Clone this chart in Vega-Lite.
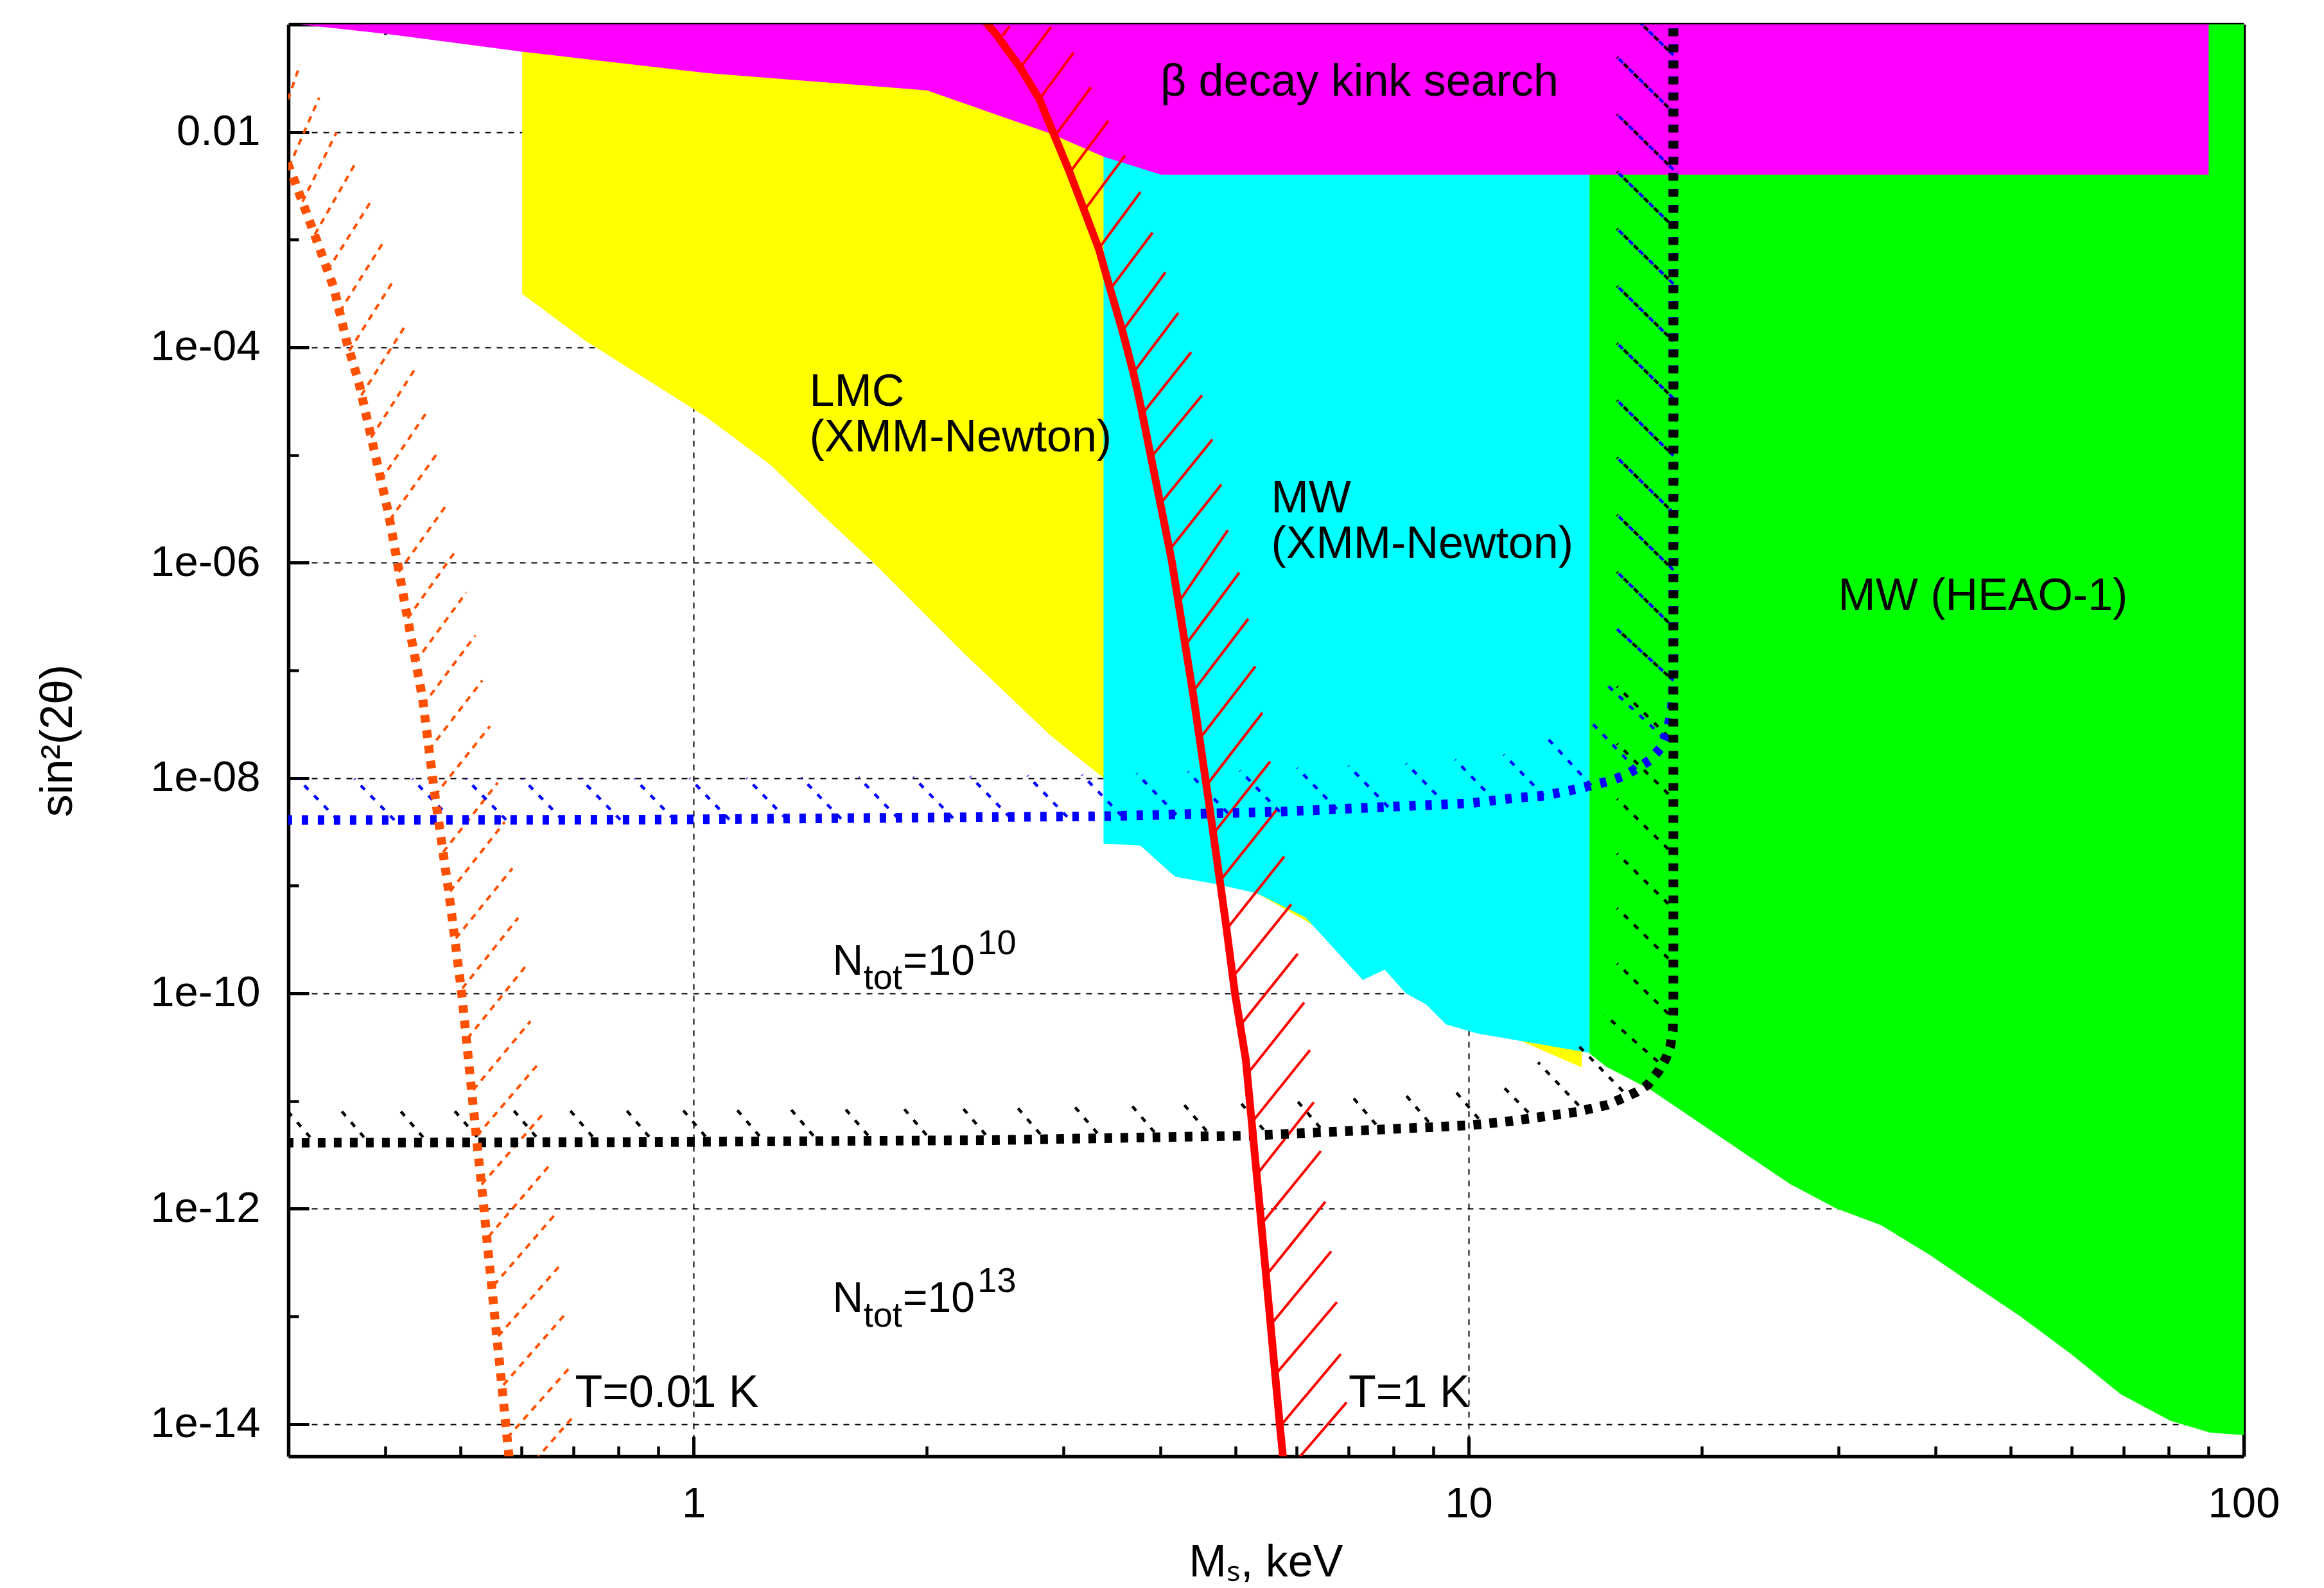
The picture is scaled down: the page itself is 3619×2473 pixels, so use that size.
{
"$schema": "https://vega.github.io/schema/vega-lite/v6.json",
"width": 3045, "height": 2230,
"autosize": {"type": "none"},
"padding": {"left": 449, "top": 38, "right": 125, "bottom": 205},
"background": "white",
"config": {
  "view": {"stroke": null},
  "font": "Liberation Sans",
  "axis": {"labelFont": "Liberation Sans", "titleFont": "Liberation Sans", "labelColor": "black", "titleColor": "black", "tickColor": "black", "domainColor": "black", "gridColor": "black", "titleFontWeight": "normal", "zindex": 1, "labelFlush": false, "labelOverlap": false, "labelBound": false}
},
"datasets": {
  "yellow": [
    {"x":0.601,"y":3.15e-4},{"x":0.724,"y":1.16e-4},{"x":0.955,"y":3.3e-5},{"x":1.04,"y":2.24e-5},{"x":1.257,"y":8.1e-6},{"x":1.46,"y":2.86e-6},{"x":1.70,"y":1.03e-6},{"x":2.235,"y":1.43e-7},{"x":2.885,"y":2.5e-8},{"x":3.38,"y":1.0e-8},{"x":4.0,"y":3.0e-9},{"x":4.73,"y":1.2e-9},{"x":5.33,"y":8.5e-10},{"x":6.2,"y":4.6e-10},{"x":6.6,"y":3.4e-10},{"x":7.3,"y":1.6e-10},{"x":7.79,"y":1.8e-10},{"x":8.3,"y":1.1e-10},{"x":8.81,"y":8.5e-11},{"x":9.35,"y":5.5e-11},{"x":10.27,"y":4.4e-11},{"x":11.49,"y":3.8e-11},{"x":13.99,"y":2.05e-11}
  ],
  "cyan": [
    {"x":3.38,"y":2.46e-9},{"x":3.77,"y":2.36e-9},{"x":4.18,"y":1.21e-9},{"x":4.73,"y":1.03e-9},{"x":5.33,"y":8.5e-10},{"x":6.16,"y":5.07e-10},{"x":7.30,"y":1.33e-10},{"x":7.79,"y":1.66e-10},{"x":8.30,"y":1.0e-10},{"x":8.81,"y":7.9e-11},{"x":9.35,"y":5.14e-11},{"x":10.27,"y":4.23e-11},{"x":14.32,"y":2.8e-11}
  ],
  "green": [
    {"x":14.32,"y":2.77e-11},{"x":15.04,"y":2.09e-11},{"x":17.19,"y":1.265e-11},{"x":19.65,"y":6.59e-12},{"x":22.45,"y":3.44e-12},{"x":26.05,"y":1.675e-12},{"x":29.77,"y":1.007e-12},{"x":34.02,"y":7.05e-13},{"x":39.4,"y":3.69e-13},{"x":45.05,"y":1.91e-13},{"x":51.46,"y":1.0e-13},{"x":59.74,"y":4.51e-14},{"x":69.31,"y":1.9e-14},{"x":80.4,"y":1.07e-14},{"x":90.5,"y":8.32e-15},{"x":100,"y":7.87e-15}
  ],
  "magenta": [
    {"x":0.31,"y":0.1},{"x":0.401,"y":0.0818},{"x":0.601,"y":0.0557},{"x":1.04,"y":0.0353},{"x":2.0,"y":0.0244},{"x":2.885,"y":0.0097},{"x":3.38,"y":0.0059},{"x":4.01,"y":0.00402},{"x":90.1,"y":0.00402}
  ],
  "red": [
    {"i":0,"x":2.346,"y":0.130},{"i":1,"x":2.390,"y":0.1015},{"i":2,"x":2.451,"y":0.0826},{"i":3,"x":2.635,"y":0.0404},{"i":4,"x":2.795,"y":0.02005},{"i":5,"x":2.921,"y":0.00928},{"i":6,"x":3.051,"y":0.004359},{"i":7,"x":3.188,"y":0.001911},{"i":8,"x":3.332,"y":8.26e-4},{"i":9,"x":3.448,"y":3.475e-4},{"i":10,"x":3.575,"y":1.421e-4},{"i":11,"x":3.693,"y":5.816e-5},{"i":12,"x":3.771,"y":2.967e-5},{"i":13,"x":4.025,"y":2.866e-6},{"i":14,"x":4.141,"y":1.022e-6},{"i":15,"x":4.418,"y":5.544e-8},{"i":16,"x":4.634,"y":5.21e-9},{"i":17,"x":4.852,"y":4.9e-10},{"i":18,"x":4.993,"y":1.008e-10},{"i":19,"x":5.158,"y":2.414e-11},{"i":20,"x":5.378,"y":1.008e-12},{"i":21,"x":5.705,"y":9.95e-15},{"i":22,"x":5.759,"y":5.0e-15},{"i":23,"x":5.781,"y":3.65e-15}
  ],
  "orange": [
    {"i":0,"x":0.2892,"y":0.00954},{"i":1,"x":0.2999,"y":0.004932},{"i":2,"x":0.3057,"y":0.003498},{"i":3,"x":0.3245,"y":0.001103},{"i":4,"x":0.3435,"y":3.571e-4},{"i":5,"x":0.3565,"y":1.157e-4},{"i":6,"x":0.3700,"y":4.67e-5},{"i":7,"x":0.3867,"y":1.149e-5},{"i":8,"x":0.4040,"y":2.866e-6},{"i":9,"x":0.4246,"y":3.96e-7},{"i":10,"x":0.4469,"y":5.544e-8},{"i":11,"x":0.4634,"y":7.153e-9},{"i":12,"x":0.4842,"y":7.82e-10},{"i":13,"x":0.5021,"y":1.008e-10},{"i":14,"x":0.5157,"y":1.512e-11},{"i":15,"x":0.5256,"y":3.987e-12},{"i":16,"x":0.5364,"y":1.008e-12},{"i":17,"x":0.5437,"y":3.696e-13},{"i":18,"x":0.5539,"y":1.0e-13},{"i":19,"x":0.5619,"y":3.67e-14},{"i":20,"x":0.5723,"y":9.95e-15},{"i":21,"x":0.5778,"y":5.0e-15},{"i":22,"x":0.5826,"y":2.55e-15}
  ],
  "blue": [
    {"i":0,"x":0.2838,"y":4.07e-9},{"i":1,"x":0.3,"y":4.07e-9},{"i":2,"x":0.8583,"y":4.10e-9},{"i":3,"x":3.422,"y":4.42e-9},{"i":4,"x":5.705,"y":4.87e-9},{"i":5,"x":8.013,"y":5.43e-9},{"i":6,"x":10.02,"y":5.82e-9},{"i":7,"x":11.404,"y":6.49e-9},{"i":8,"x":12.546,"y":6.86e-9},{"i":9,"x":13.748,"y":7.87e-9},{"i":10,"x":14.42,"y":8.55e-9},{"i":11,"x":15.12,"y":9.28e-9},{"i":12,"x":15.80,"y":1.036e-8},{"i":13,"x":16.48,"y":1.222e-8},{"i":14,"x":17.12,"y":1.461e-8},{"i":15,"x":17.69,"y":1.898e-8},{"i":16,"x":18.03,"y":2.64e-8},{"i":17,"x":18.20,"y":3.62e-8},{"i":18,"x":18.34,"y":5.32e-8},{"i":19,"x":18.37,"y":8.04e-8},{"i":20,"x":18.37,"y":0.13}
  ],
  "black": [
    {"i":0,"x":0.2838,"y":4.10e-12},{"i":1,"x":0.3,"y":4.10e-12},{"i":2,"x":0.8583,"y":4.15e-12},{"i":3,"x":2.432,"y":4.33e-12},{"i":4,"x":5.236,"y":4.77e-12},{"i":5,"x":10.02,"y":5.94e-12},{"i":6,"x":11.404,"y":6.54e-12},{"i":7,"x":12.546,"y":7.20e-12},{"i":8,"x":13.80,"y":7.93e-12},{"i":9,"x":15.12,"y":9.22e-12},{"i":10,"x":15.65,"y":1.029e-11},{"i":11,"x":16.48,"y":1.214e-11},{"i":12,"x":17.02,"y":1.411e-11},{"i":13,"x":17.62,"y":1.937e-11},{"i":14,"x":17.96,"y":2.48e-11},{"i":15,"x":18.20,"y":3.18e-11},{"i":16,"x":18.34,"y":4.48e-11},{"i":17,"x":18.37,"y":7.25e-11},{"i":18,"x":18.37,"y":0.13}
  ],
  "hatch_red": [
    {"x":2.503,"y":0.0782,"x2":2.556,"y2":0.0961},{"x":2.645,"y":0.0404,"x2":2.893,"y2":0.0948},{"x":2.795,"y":0.0203,"x2":3.093,"y2":0.0547},{"x":2.927,"y":0.00928,"x2":3.256,"y2":0.02603},{"x":3.064,"y":0.0043,"x2":3.428,"y2":0.01274},{"x":3.194,"y":0.001885,"x2":3.603,"y2":0.006064},{"x":3.332,"y":0.000826,"x2":3.771,"y2":0.002769},{"x":3.448,"y":0.0003475,"x2":3.910,"y2":0.001165},{"x":3.575,"y":0.0001421,"x2":4.061,"y2":0.0004967},{"x":3.693,"y":5.82e-5,"x2":4.220,"y2":0.0002089},{"x":3.793,"y":2.414e-5,"x2":4.385,"y2":9.03e-5},{"x":3.895,"y":9.61e-6,"x2":4.530,"y2":3.595e-5},{"x":4.001,"y":3.523e-6,"x2":4.670,"y2":1.393e-5},{"x":4.109,"y":1.309e-6,"x2":4.796,"y2":5.32e-6},{"x":4.220,"y":4.24e-7,"x2":4.889,"y2":2.005e-6},{"x":4.310,"y":1.712e-7,"x2":5.059,"y2":8.09e-7},{"x":4.410,"y":6.36e-8,"x2":5.196,"y2":3.006e-7},{"x":4.494,"y":2.30e-8,"x2":5.306,"y2":1.087e-7},{"x":4.590,"y":8.55e-9,"x2":5.418,"y2":4.04e-8},{"x":4.679,"y":3.006e-9,"x2":5.544,"y2":1.422e-8},{"x":4.769,"y":1.088e-9,"x2":5.662,"y2":5.14e-9},{"x":4.870,"y":3.933e-10,"x2":5.781,"y2":1.859e-9},{"x":4.964,"y":1.422e-10,"x2":5.904,"y2":6.72e-10},{"x":5.069,"y":5.00e-11,"x2":6.018,"y2":2.332e-10},{"x":5.166,"y":1.736e-11,"x2":6.134,"y2":8.21e-11},{"x":5.247,"y":6.28e-12,"x2":6.240,"y2":2.967e-11},{"x":5.327,"y":2.061e-12,"x2":6.312,"y2":9.74e-12},{"x":5.408,"y":7.25e-13,"x2":6.446,"y2":3.43e-12},{"x":5.491,"y":2.447e-13,"x2":6.533,"y2":1.157e-12},{"x":5.565,"y":8.49e-14,"x2":6.646,"y2":4.014e-13},{"x":5.629,"y":2.867e-14,"x2":6.761,"y2":1.355e-13},{"x":5.705,"y":9.41e-15,"x2":6.839,"y2":4.45e-14},{"x":5.781,"y":3.357e-15,"x2":6.958,"y2":1.588e-14}
  ],
  "hatch_orange": [
    {"x":0.2893,"y":0.00954,"x2":0.3105,"y2":0.04211},{"x":0.3005,"y":0.004734,"x2":0.3288,"y2":0.02089},{"x":0.3129,"y":0.002253,"x2":0.3461,"y2":0.009945},{"x":0.3245,"y":0.001118,"x2":0.3650,"y2":0.004932},{"x":0.3370,"y":5.176e-4,"x2":0.3837,"y2":0.002285},{"x":0.3494,"y":2.147e-4,"x2":0.3979,"y2":9.48e-4},{"x":0.3595,"y":9.28e-5,"x2":0.4094,"y2":4.097e-4},{"x":0.3727,"y":3.595e-5,"x2":0.4246,"y2":1.587e-4},{"x":0.3837,"y":1.452e-5,"x2":0.4377,"y2":6.406e-5},{"x":0.3949,"y":5.858e-6,"x2":0.4539,"y2":2.585e-5},{"x":0.4055,"y":2.497e-6,"x2":0.4697,"y2":1.102e-5},{"x":0.4165,"y":8.20e-7,"x2":0.4824,"y2":3.621e-6},{"x":0.4277,"y":3.049e-7,"x2":0.4955,"y2":1.346e-6},{"x":0.4377,"y":1.197e-7,"x2":0.5089,"y2":5.285e-7},{"x":0.4478,"y":4.768e-8,"x2":0.5227,"y2":2.104e-7},{"x":0.4555,"y":1.821e-8,"x2":0.5338,"y2":8.04e-8},{"x":0.4634,"y":6.86e-9,"x2":0.5461,"y2":3.029e-8},{"x":0.4751,"y":2.046e-9,"x2":0.5588,"y2":9.03e-9},{"x":0.4852,"y":8.85e-10,"x2":0.5706,"y2":3.905e-9},{"x":0.4935,"y":3.243e-10,"x2":0.5838,"y2":1.451e-9},{"x":0.5030,"y":1.110e-10,"x2":0.5939,"y2":5.04e-10},{"x":0.5107,"y":3.80e-11,"x2":0.6077,"y2":1.796e-10},{"x":0.5196,"y":1.265e-11,"x2":0.6159,"y2":5.506e-11},{"x":0.5256,"y":4.77e-12,"x2":0.6278,"y2":2.133e-11},{"x":0.5327,"y":1.677e-12,"x2":0.6397,"y2":7.61e-12},{"x":0.5439,"y":5.506e-13,"x2":0.6509,"y2":2.498e-12},{"x":0.5523,"y":1.937e-13,"x2":0.6622,"y2":8.79e-13},{"x":0.5598,"y":6.54e-14,"x2":0.6723,"y2":2.967e-13},{"x":0.5683,"y":2.30e-14,"x2":0.6827,"y2":1.044e-13},{"x":0.5749,"y":7.45e-15,"x2":0.6932,"y2":3.381e-14},{"x":0.5815,"y":2.55e-15,"x2":0.6985,"y2":1.157e-14}
  ],
  "hatch_blue": [
    {"x":0.3475,"y":4.07e-9,"x2":0.3088,"y2":9.81e-9},{"x":0.4111,"y":4.07e-9,"x2":0.3650,"y2":9.81e-9},{"x":0.4880,"y":4.07e-9,"x2":0.4335,"y2":9.81e-9},{"x":0.5728,"y":4.09e-9,"x2":0.5089,"y2":9.83e-9},{"x":0.6775,"y":4.09e-9,"x2":0.6019,"y2":9.83e-9},{"x":0.8043,"y":4.10e-9,"x2":0.7145,"y2":9.86e-9},{"x":0.9441,"y":4.10e-9,"x2":0.8388,"y2":9.86e-9},{"x":1.112,"y":4.12e-9,"x2":0.9883,"y2":9.94e-9},{"x":1.318,"y":4.15e-9,"x2":1.171,"y2":1.0e-8},{"x":1.550,"y":4.18e-9,"x2":1.377,"y2":1.008e-8},{"x":1.837,"y":4.21e-9,"x2":1.632,"y2":1.015e-8},{"x":2.161,"y":4.24e-9,"x2":1.920,"y2":1.022e-8},{"x":2.561,"y":4.30e-9,"x2":2.275,"y2":1.036e-8},{"x":3.034,"y":4.36e-9,"x2":2.696,"y2":1.051e-8},{"x":3.568,"y":4.45e-9,"x2":3.170,"y2":1.072e-8},{"x":4.196,"y":4.57e-9,"x2":3.729,"y2":1.102e-8},{"x":4.889,"y":4.73e-9,"x2":4.343,"y2":1.141e-8},{"x":5.705,"y":4.87e-9,"x2":5.069,"y2":1.173e-8},{"x":6.761,"y":5.14e-9,"x2":6.007,"y2":1.239e-8},{"x":7.874,"y":5.39e-9,"x2":6.998,"y2":1.300e-8},{"x":9.352,"y":5.66e-9,"x2":8.308,"y2":1.364e-8},{"x":10.81,"y":6.14e-9,"x2":9.605,"y2":1.482e-8},{"x":12.50,"y":6.86e-9,"x2":11.10,"y2":1.654e-8},
    {"x":14.39,"y":8.55e-9,"x2":12.64,"y2":2.332e-8},{"x":16.45,"y":1.205e-8,"x2":14.26,"y2":3.522e-8},{"x":17.89,"y":2.332e-8,"x2":15.12,"y2":7.20e-8},
    {"x":18.37,"y":8.04e-8,"x2":15.54,"y2":2.414e-7},{"x":18.37,"y":2.516e-7,"x2":15.54,"y2":8.20e-7},{"x":18.37,"y":8.55e-7,"x2":15.54,"y2":2.789e-6},{"x":18.37,"y":2.906e-6,"x2":15.54,"y2":9.48e-6},{"x":18.37,"y":9.88e-6,"x2":15.54,"y2":3.222e-5},{"x":18.37,"y":3.357e-5,"x2":15.54,"y2":1.095e-4},{"x":18.37,"y":1.141e-4,"x2":15.54,"y2":3.72e-4},{"x":18.37,"y":3.879e-4,"x2":15.54,"y2":0.001265},{"x":18.37,"y":0.001318,"x2":15.54,"y2":0.0043},{"x":18.37,"y":0.00448,"x2":15.54,"y2":0.01462},{"x":18.37,"y":0.01523,"x2":15.54,"y2":0.04967},{"x":18.37,"y":0.05176,"x2":15.54,"y2":0.1688}
  ],
  "hatch_black": [
    {"x":0.3245,"y":4.10e-12,"x2":0.2960,"y2":8.85e-12},{"x":0.3808,"y":4.10e-12,"x2":0.3475,"y2":8.85e-12},{"x":0.4539,"y":4.10e-12,"x2":0.4141,"y2":8.85e-12},{"x":0.5328,"y":4.13e-12,"x2":0.4861,"y2":8.9e-12},{"x":0.6349,"y":4.15e-12,"x2":0.5794,"y2":8.97e-12},{"x":0.7509,"y":4.15e-12,"x2":0.6852,"y2":8.97e-12},{"x":0.8883,"y":4.15e-12,"x2":0.8104,"y2":8.97e-12},{"x":1.050,"y":4.18e-12,"x2":0.9585,"y2":9.03e-12},{"x":1.233,"y":4.21e-12,"x2":1.125,"y2":9.09e-12},{"x":1.447,"y":4.24e-12,"x2":1.321,"y2":9.15e-12},{"x":1.702,"y":4.27e-12,"x2":1.553,"y2":9.22e-12},{"x":2.025,"y":4.30e-12,"x2":1.848,"y2":9.28e-12},{"x":2.414,"y":4.33e-12,"x2":2.202,"y2":9.35e-12},{"x":2.839,"y":4.39e-12,"x2":2.590,"y2":9.48e-12},{"x":3.364,"y":4.48e-12,"x2":3.069,"y2":9.67e-12},{"x":3.986,"y":4.57e-12,"x2":3.638,"y2":9.88e-12},{"x":4.653,"y":4.70e-12,"x2":4.245,"y2":1.015e-11},{"x":5.513,"y":4.83e-12,"x2":5.030,"y2":1.043e-11},{"x":6.522,"y":5.04e-12,"x2":5.950,"y2":1.087e-11},{"x":7.697,"y":5.40e-12,"x2":7.024,"y2":1.165e-11},{"x":9.001,"y":5.70e-12,"x2":8.215,"y2":1.231e-11},{"x":10.44,"y":6.10e-12,"x2":9.533,"y2":1.318e-11},{"x":12.12,"y":7.00e-12,"x2":11.0,"y2":1.431e-11},
    {"x":14.07,"y":8.15e-12,"x2":12.29,"y2":2.285e-11},{"x":16.05,"y":1.103e-11,"x2":13.88,"y2":3.22e-11},{"x":17.82,"y":2.104e-11,"x2":14.98,"y2":6.32e-11},
    {"x":18.37,"y":5.82e-11,"x2":15.54,"y2":1.897e-10},{"x":18.37,"y":1.897e-10,"x2":15.54,"y2":6.19e-10},{"x":18.37,"y":6.10e-10,"x2":15.54,"y2":1.991e-9},{"x":18.37,"y":1.964e-9,"x2":15.54,"y2":6.40e-9},{"x":18.37,"y":6.40e-9,"x2":15.54,"y2":2.089e-8},{"x":18.37,"y":2.177e-8,"x2":15.54,"y2":7.10e-8},{"x":18.37,"y":8.04e-8,"x2":15.54,"y2":2.414e-7},{"x":18.37,"y":2.516e-7,"x2":15.54,"y2":8.20e-7},{"x":18.37,"y":8.55e-7,"x2":15.54,"y2":2.789e-6},{"x":18.37,"y":2.906e-6,"x2":15.54,"y2":9.48e-6},{"x":18.37,"y":9.88e-6,"x2":15.54,"y2":3.222e-5},{"x":18.37,"y":3.357e-5,"x2":15.54,"y2":1.095e-4},{"x":18.37,"y":1.141e-4,"x2":15.54,"y2":3.72e-4},{"x":18.37,"y":3.879e-4,"x2":15.54,"y2":0.001265},{"x":18.37,"y":0.001318,"x2":15.54,"y2":0.0043},{"x":18.37,"y":0.00448,"x2":15.54,"y2":0.01462},{"x":18.37,"y":0.01523,"x2":15.54,"y2":0.04967},{"x":18.37,"y":0.05176,"x2":15.54,"y2":0.1688}
  ],
  "lab_left": [
    {"x":1.411,"y":2.86e-5,"t":"LMC"},{"x":1.411,"y":1.087e-5,"t":"(XMM-Newton)"},{"x":5.561,"y":2.92e-6,"t":"MW"},{"x":5.561,"y":1.11e-6,"t":"(XMM-Newton)"},{"x":0.7031,"y":1.43e-14,"t":"T=0.01 K"},{"x":6.998,"y":1.43e-14,"t":"T=1 K"}
  ],
  "lab_center": [
    {"x":7.228,"y":0.02177,"t":"β decay kink search"},{"x":46.08,"y":3.626e-7,"t":"MW (HEAO-1)"}
  ],
  "lab_n": [
    {"x":1.511,"y":1.49e-10,"t":"N"},{"x":1.862,"y":1.49e-10,"t":"=10"},{"x":1.511,"y":1.094e-13,"t":"N"},{"x":1.862,"y":1.094e-13,"t":"=10"}
  ],
  "lab_nsmall": [
    {"x":1.657,"y":1.094e-10,"t":"tot"},{"x":2.325,"y":2.30e-10,"t":"10"},{"x":1.657,"y":7.98e-14,"t":"tot"},{"x":2.325,"y":1.69e-13,"t":"13"}
  ]
},
"layer": [
  {"data": {"name": "yellow"}, "mark": {"type": "area", "color": "#ffff00", "clip": true},
   "encoding": {
     "x": {"field": "x", "type": "quantitative", "scale": {"type": "log", "domain": [0.3, 100], "nice": false},
       "axis": {"orient": "bottom", "values": [1, 10, 100], "format": "d", "ticks": false, "domain": true, "domainWidth": 5.5, "labelFontSize": 67, "labelPadding": 41, "grid": true, "gridDash": [9, 9], "gridWidth": 2, "gridOpacity": 1, "title": "Mₛ, keV", "titleFontSize": 70, "titleBaseline": "alphabetic", "titleX": 1522, "titleY": 186}},
     "y": {"field": "y", "type": "quantitative", "scale": {"type": "log", "domain": [5e-15, 0.1], "nice": false},
       "axis": {"orient": "left", "values": [0.01, 1e-4, 1e-6, 1e-8, 1e-10, 1e-12, 1e-14], "labelExpr": "datum.value > 0.005 ? '0.01' : '1e-' + (round(-log(datum.value)/LN10) < 10 ? '0' : '') + round(-log(datum.value)/LN10)", "ticks": false, "domain": true, "domainWidth": 5.5, "labelFontSize": 67, "labelPadding": 44, "grid": true, "gridDash": [9, 9], "gridWidth": 2, "gridOpacity": 1, "title": "sin²(2θ)", "titleFontSize": 70, "titleBaseline": "alphabetic", "titleAngle": 270, "titleX": -338, "titleY": 1115}},
     "y2": {"datum": 0.1}
   }},
  {"data": {"name": "cyan"}, "mark": {"type": "area", "color": "#00ffff", "clip": true},
   "encoding": {
     "x": {"field": "x", "type": "quantitative", "scale": {"type": "log", "domain": [0.3, 100], "nice": false},
       "axis": {"orient": "bottom", "values": [1, 10], "labels": false, "ticks": true, "tickSize": -31, "tickWidth": 5, "domain": false, "grid": false, "title": null}},
     "y": {"field": "y", "type": "quantitative", "scale": {"type": "log", "domain": [5e-15, 0.1], "nice": false},
       "axis": {"orient": "left", "values": [0.01, 1e-4, 1e-6, 1e-8, 1e-10, 1e-12, 1e-14], "labels": false, "ticks": true, "tickSize": -32, "tickWidth": 5, "domain": false, "grid": false, "title": null}},
     "y2": {"datum": 0.1}
   }},
  {"data": {"name": "green"}, "mark": {"type": "area", "color": "#00ff00", "clip": true},
   "encoding": {
     "x": {"field": "x", "type": "quantitative", "scale": {"type": "log", "domain": [0.3, 100], "nice": false},
       "axis": {"orient": "bottom", "values": [0.4, 0.5, 0.6, 0.7, 0.8, 0.9, 2, 3, 4, 5, 6, 7, 8, 9, 20, 30, 40, 50, 60, 70, 80, 90], "labels": false, "ticks": true, "tickSize": -16, "tickWidth": 4.5, "domain": false, "grid": false, "title": null}},
     "y": {"field": "y", "type": "quantitative", "scale": {"type": "log", "domain": [5e-15, 0.1], "nice": false},
       "axis": {"orient": "left", "values": [1e-3, 1e-5, 1e-7, 1e-9, 1e-11, 1e-13], "labels": false, "ticks": true, "tickSize": -16, "tickWidth": 4.5, "domain": false, "grid": false, "title": null}},
     "y2": {"datum": 0.1}
   }},
  {"data": {"name": "magenta"}, "mark": {"type": "area", "color": "#ff00ff", "clip": true},
   "encoding": {
     "x": {"field": "x", "type": "quantitative", "scale": {"type": "log", "domain": [0.3, 100], "nice": false},
       "axis": {"orient": "top", "values": [1, 10], "labels": false, "ticks": true, "tickSize": -31, "tickWidth": 5, "domain": true, "domainWidth": 5.5, "grid": false, "title": null}},
     "y": {"field": "y", "type": "quantitative", "scale": {"type": "log", "domain": [5e-15, 0.1], "nice": false},
       "axis": {"orient": "right", "values": [0.01, 1e-4, 1e-6, 1e-8, 1e-10, 1e-12, 1e-14], "labels": false, "ticks": true, "tickSize": -32, "tickWidth": 5, "domain": true, "domainWidth": 5.5, "grid": false, "title": null}},
     "y2": {"datum": 0.1}
   }},
  {"data": {"name": "hatch_orange"}, "mark": {"type": "rule", "color": "#ff5000", "strokeWidth": 4, "strokeDash": [10, 9], "clip": true},
   "encoding": {
     "x": {"field": "x", "type": "quantitative", "scale": {"type": "log", "domain": [0.3, 100], "nice": false},
       "axis": {"orient": "top", "values": [0.4, 0.5, 0.6, 0.7, 0.8, 0.9, 2, 3, 4, 5, 6, 7, 8, 9, 20, 30, 40, 50, 60, 70, 80, 90], "labels": false, "ticks": true, "tickSize": -16, "tickWidth": 4.5, "domain": false, "grid": false, "title": null}},
     "y": {"field": "y", "type": "quantitative", "scale": {"type": "log", "domain": [5e-15, 0.1], "nice": false},
       "axis": {"orient": "right", "values": [1e-3, 1e-5, 1e-7, 1e-9, 1e-11, 1e-13], "labels": false, "ticks": true, "tickSize": -16, "tickWidth": 4.5, "domain": false, "grid": false, "title": null}},
     "x2": {"field": "x2"}, "y2": {"field": "y2"}
   }},
  {"data": {"name": "hatch_red"}, "mark": {"type": "rule", "color": "#ff0000", "strokeWidth": 4, "clip": true},
   "encoding": {
     "x": {"field": "x", "type": "quantitative", "axis": null}, "y": {"field": "y", "type": "quantitative", "axis": null},
     "x2": {"field": "x2"}, "y2": {"field": "y2"}
   }},
  {"data": {"name": "hatch_blue"}, "mark": {"type": "rule", "color": "#0000ff", "strokeWidth": 4.5, "strokeDash": [9, 13], "clip": true},
   "encoding": {
     "x": {"field": "x", "type": "quantitative", "axis": null}, "y": {"field": "y", "type": "quantitative", "axis": null},
     "x2": {"field": "x2"}, "y2": {"field": "y2"}
   }},
  {"data": {"name": "hatch_black"}, "mark": {"type": "rule", "color": "#000000", "strokeWidth": 4.5, "strokeDash": [9, 13], "strokeDashOffset": 11, "clip": true},
   "encoding": {
     "x": {"field": "x", "type": "quantitative", "axis": null}, "y": {"field": "y", "type": "quantitative", "axis": null},
     "x2": {"field": "x2"}, "y2": {"field": "y2"}
   }},
  {"data": {"name": "blue"}, "mark": {"type": "line", "color": "#0000ff", "strokeWidth": 15, "strokeDash": [10, 15], "clip": true},
   "encoding": {
     "x": {"field": "x", "type": "quantitative", "axis": null}, "y": {"field": "y", "type": "quantitative", "axis": null},
     "order": {"field": "i", "type": "quantitative"}
   }},
  {"data": {"name": "black"}, "mark": {"type": "line", "color": "#000000", "strokeWidth": 15, "strokeDash": [12, 13], "clip": true},
   "encoding": {
     "x": {"field": "x", "type": "quantitative", "axis": null}, "y": {"field": "y", "type": "quantitative", "axis": null},
     "order": {"field": "i", "type": "quantitative"}
   }},
  {"data": {"name": "red"}, "mark": {"type": "line", "color": "#ff0000", "strokeWidth": 12, "clip": true},
   "encoding": {
     "x": {"field": "x", "type": "quantitative", "axis": null}, "y": {"field": "y", "type": "quantitative", "axis": null},
     "order": {"field": "i", "type": "quantitative"}
   }},
  {"data": {"name": "orange"}, "mark": {"type": "line", "color": "#ff5000", "strokeWidth": 14, "strokeDash": [12, 12], "clip": true},
   "encoding": {
     "x": {"field": "x", "type": "quantitative", "axis": null}, "y": {"field": "y", "type": "quantitative", "axis": null},
     "order": {"field": "i", "type": "quantitative"}
   }},
  {"data": {"name": "lab_left"}, "mark": {"type": "text", "align": "left", "baseline": "alphabetic", "fontSize": 70, "font": "Liberation Sans", "color": "black"},
   "encoding": {
     "x": {"field": "x", "type": "quantitative", "axis": null}, "y": {"field": "y", "type": "quantitative", "axis": null},
     "text": {"field": "t"}
   }},
  {"data": {"name": "lab_center"}, "mark": {"type": "text", "align": "center", "baseline": "alphabetic", "fontSize": 70, "font": "Liberation Sans", "color": "black"},
   "encoding": {
     "x": {"field": "x", "type": "quantitative", "axis": null}, "y": {"field": "y", "type": "quantitative", "axis": null},
     "text": {"field": "t"}
   }},
  {"data": {"name": "lab_n"}, "mark": {"type": "text", "align": "left", "baseline": "alphabetic", "fontSize": 66, "font": "Liberation Sans", "color": "black"},
   "encoding": {
     "x": {"field": "x", "type": "quantitative", "axis": null}, "y": {"field": "y", "type": "quantitative", "axis": null},
     "text": {"field": "t"}
   }},
  {"data": {"name": "lab_nsmall"}, "mark": {"type": "text", "align": "left", "baseline": "alphabetic", "fontSize": 54, "font": "Liberation Sans", "color": "black"},
   "encoding": {
     "x": {"field": "x", "type": "quantitative", "axis": null}, "y": {"field": "y", "type": "quantitative", "axis": null},
     "text": {"field": "t"}
   }}
],
"resolve": {"axis": {"x": "independent", "y": "independent"}}
}
